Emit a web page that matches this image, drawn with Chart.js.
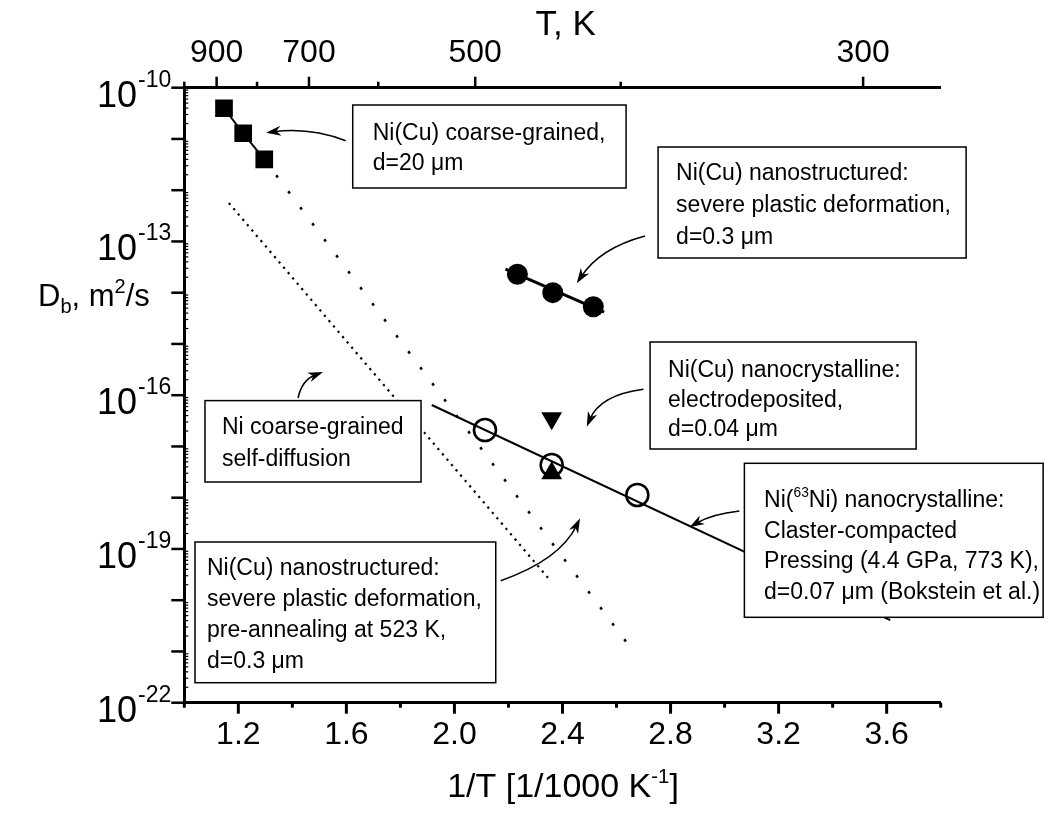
<!DOCTYPE html>
<html><head><meta charset="utf-8">
<script src="https://cdn.jsdelivr.net/npm/chart.js@4/dist/chart.umd.min.js"></script>
<style>html,body{margin:0;padding:0;background:#fff;overflow:hidden}canvas{display:block}</style>
</head><body>
<canvas id="c" width="1050" height="821"></canvas>
<script>
// ---------------- data ----------------
const coarseX = [1.147, 1.218, 1.296];
const coarseD = [3.97e-11, 1.29e-11, 4.0e-12];
const coarseExtrapX = [1.296, 2.639];
const coarseExtrapD = [4.0e-12, 1.46e-21];
const selfDiffX = [1.165, 2.347];
const selfDiffD = [5.62e-13, 2.71e-20];
const spdX = [2.233, 2.364, 2.514];
const spdD = [2.29e-14, 1.0e-14, 5.33e-15];
const spdFitX = [2.189, 2.554];
const spdFitD = [2.9e-14, 4.2e-15];
const edDownX = [2.36];
const edDownD = [3.54e-17];
const edUpX = [2.36];
const edUpD = [2.99e-18];
const ni63X = [2.113, 2.36, 2.677];
const ni63D = [2.09e-17, 4.35e-18, 1.13e-18];
const ni63FitX = [1.916, 3.613];
const ni63FitD = [6.44e-17, 4.1e-21];

// ---------------- axes ----------------
const xTickValues = [1.0, 1.2, 1.4, 1.6, 1.8, 2.0, 2.2, 2.4, 2.6, 2.8, 3.0, 3.2, 3.4, 3.6, 3.8];
const xTickLabels = ['1.2', '1.6', '2.0', '2.4', '2.8', '3.2', '3.6'];
const topTemps = [1000, 900, 800, 700, 600, 500, 400, 300];
const topTempLabels = [900, 700, 500, 300];
const yDecades = [-22, -21, -20, -19, -18, -17, -16, -15, -14, -13, -12, -11, -10];
const yLabelExps = [-22, -19, -16, -13, -10];

const xTitle = ['1/T [1/1000 K', '-1', ']'];
const x2Title = 'T, K';

// ---------------- annotations (data coordinates: x = 1/T, y = log10 D) ----------------
const boxes = [
  {x1: 1.6235, x2: 2.6353, y1: -10.3376, y2: -11.9571, tx: 1.6975, ly: [-10.8585, -11.4439],
   lines: ['Ni(Cu) coarse-grained,', 'd=20 \u03bcm']},
  {x1: 2.7538, x2: 3.8941, y1: -11.1571, y2: -13.3229, tx: 2.8205, ly: [-11.6449, -12.2693, -12.8937],
   lines: ['Ni(Cu) nanostructured:', 'severe plastic deformation,', 'd=0.3 \u03bcm']},
  {x1: 2.7242, x2: 3.7090, y1: -14.9620, y2: -17.0498, tx: 2.7908, ly: [-15.4888, -16.0644, -16.6400],
   lines: ['Ni(Cu) nanocrystalline:', 'electrodeposited,', 'd=0.04 \u03bcm']},
  {x1: 1.0766, x2: 1.8763, y1: -16.1054, y2: -17.6937, tx: 1.1396, ly: [-16.6010, -17.2254],
   lines: ['Ni coarse-grained', 'self-diffusion']},
  {x1: 1.0396, x2: 2.1529, y1: -18.8644, y2: -21.6098, tx: 1.0840, ly: [-19.3522, -19.9473, -20.5522, -21.1668],
   lines: ['Ni(Cu) nanostructured:', 'severe plastic deformation,', 'pre-annealing at 523 K,', 'd=0.3 \u03bcm']},
  {x1: 3.0733, x2: 4.1792, y1: -17.3288, y2: -20.3337, tx: 3.1462, ly: [-18.0117, -18.6205, -19.2156, -19.8107],
   lines: ['Ni(^63^Ni) nanocrystalline:', 'Claster-compacted', 'Pressing (4.4 GPa, 773 K),', 'd=0.07 \u03bcm (Bokstein et al.)']}
];
const arrows = [
  [[1.5976, -11.0341], [1.4654, -10.7668], [1.3025, -10.8780]],
  [[2.7057, -12.8937], [2.5391, -13.1278], [2.4528, -13.8166]],
  [[2.6994, -15.8849], [2.5391, -15.9961], [2.4898, -16.6146]],
  [[3.0548, -18.2595], [2.9537, -18.3180], [2.8697, -18.5776]],
  [[1.4210, -16.0546], [1.4358, -15.7034], [1.5135, -15.5473]],
  [[2.1714, -19.6195], [2.3910, -19.2098], [2.4650, -18.4020]]
];

const FONT = '"Liberation Sans", Arial, Helvetica, sans-serif';
const pts = (xs, ys) => xs.map((x, i) => ({x: x, y: ys[i]}));
const near = (a, b) => Math.abs(a - b) < 1e-6;

function drawRich(ctx, text, x, yc, size, align) {
  const parts = text.split('^');
  const segs = parts.map((t, i) => ({t: t, sup: i % 2 === 1}));
  let w = 0;
  segs.forEach(s => { ctx.font = (s.sup ? size * 0.6 : size) + 'px ' + FONT; s.w = ctx.measureText(s.t).width; w += s.w; });
  let cx = align === 'center' ? x - w / 2 : (align === 'right' ? x - w : x);
  const base = yc + size * 0.358;
  ctx.textAlign = 'left'; ctx.textBaseline = 'alphabetic';
  segs.forEach(s => {
    ctx.font = (s.sup ? size * 0.6 : size) + 'px ' + FONT;
    ctx.fillText(s.t, cx, s.sup ? base - size * 0.42 : base);
    cx += s.w;
  });
}

function drawArrow(ctx, p0, c, p1) {
  const ang = Math.atan2(p1.y - c.y, p1.x - c.x);
  const L = 15, W = 5;
  ctx.beginPath();
  ctx.moveTo(p0.x, p0.y);
  ctx.quadraticCurveTo(c.x, c.y, p1.x - 8 * Math.cos(ang), p1.y - 8 * Math.sin(ang));
  ctx.stroke();
  ctx.beginPath();
  ctx.moveTo(p1.x, p1.y);
  ctx.lineTo(p1.x - L * Math.cos(ang) + W * Math.sin(ang), p1.y - L * Math.sin(ang) - W * Math.cos(ang));
  ctx.lineTo(p1.x - L * 0.7 * Math.cos(ang), p1.y - L * 0.7 * Math.sin(ang));
  ctx.lineTo(p1.x - L * Math.cos(ang) - W * Math.sin(ang), p1.y - L * Math.sin(ang) + W * Math.cos(ang));
  ctx.closePath();
  ctx.fill();
}

const deco = {
  id: 'deco',
  afterDatasetsDraw(chart) {
    const ctx = chart.ctx, xs = chart.scales.x, ys = chart.scales.y;
    const P = (x, l) => ({x: xs.getPixelForValue(x), y: ys.getPixelForValue(Math.pow(10, l))});
    ctx.save();
    boxes.forEach(b => {
      const a = P(b.x1, b.y1), c = P(b.x2, b.y2);
      ctx.fillStyle = '#fff';
      ctx.fillRect(a.x, a.y, c.x - a.x, c.y - a.y);
      ctx.strokeStyle = '#000'; ctx.lineWidth = 1.5;
      ctx.strokeRect(a.x, a.y, c.x - a.x, c.y - a.y);
      ctx.fillStyle = '#000';
      b.lines.forEach((ln, i) => { const p = P(b.tx, b.ly[i]); drawRich(ctx, ln, p.x, p.y, 23, 'left'); });
    });
    ctx.strokeStyle = '#000'; ctx.fillStyle = '#000'; ctx.lineWidth = 1.6;
    arrows.forEach(a => drawArrow(ctx, P(a[0][0], a[0][1]), P(a[1][0], a[1][1]), P(a[2][0], a[2][1])));
    ctx.restore();
  },
  afterDraw(chart) {
    const ctx = chart.ctx, xs = chart.scales.x, x2 = chart.scales.x2, ys = chart.scales.y;
    const ca = chart.chartArea;
    ctx.save();
    ctx.strokeStyle = '#000'; ctx.fillStyle = '#000';
    // bottom ticks
    xTickValues.forEach(v => {
      const px = xs.getPixelForValue(v);
      const major = xTickLabels.some(l => near(parseFloat(l), v));
      ctx.lineWidth = 3;
      ctx.beginPath(); ctx.moveTo(px, ca.bottom); ctx.lineTo(px, ca.bottom + (major ? 11 : 5)); ctx.stroke();
    });
    // top ticks
    topTemps.forEach(T => {
      const px = x2.getPixelForValue(1000 / T);
      const major = topTempLabels.indexOf(T) >= 0;
      ctx.lineWidth = 2.5;
      ctx.beginPath(); ctx.moveTo(px, ca.top); ctx.lineTo(px, ca.top - (major ? 11 : 6)); ctx.stroke();
    });
    // y ticks
    yDecades.forEach(e => {
      const py = ys.getPixelForValue(Math.pow(10, e));
      ctx.lineWidth = 2.5;
      ctx.beginPath(); ctx.moveTo(ca.left, py); ctx.lineTo(ca.left - 13, py); ctx.stroke();
      if (e < -10) {
        for (let m = 2; m <= 9; m++) {
          const pm = ys.getPixelForValue(m * Math.pow(10, e));
          ctx.lineWidth = 1.2;
          ctx.beginPath(); ctx.moveTo(ca.left, pm); ctx.lineTo(ca.left + 4, pm); ctx.stroke();
        }
      }
    });
    // y tick labels with superscripts
    yLabelExps.forEach(e => {
      const py = ys.getPixelForValue(Math.pow(10, e));
      ctx.font = '23px ' + FONT;
      const sw = ctx.measureText(String(e)).width;
      const supRight = ca.left - 13;
      ctx.textAlign = 'right'; ctx.textBaseline = 'alphabetic';
      ctx.fillText(String(e), supRight, py - 1);
      ctx.font = '36px ' + FONT;
      ctx.fillText('10', supRight - sw - 1, py + 19);
    });
    // y title  D_b, m^2/s
    let cx = 38; const base = 306;
    ctx.textAlign = 'left';
    const seg = (t, size, dy) => { ctx.font = size + 'px ' + FONT; ctx.fillText(t, cx, base + dy); cx += ctx.measureText(t).width; };
    seg('D', 31, 0); seg('b', 20, 7); seg(', m', 31, 0); seg('2', 20, -13); seg('/s', 31, 0);
    // top title
    drawRich(ctx, x2Title, 565.6, 22.5, 35, 'center');
    // bottom title
    drawRich(ctx, xTitle[0] + '^' + xTitle[1] + '^' + xTitle[2], 563, 785, 34, 'center');
    ctx.restore();
  }
};

const black = '#000';
new Chart(document.getElementById('c'), {
  type: 'scatter',
  data: {
    datasets: [
      {label: 'Ni(Cu) coarse-grained', data: pts(coarseX, coarseD), showLine: true, borderColor: black, borderWidth: 2,
       pointStyle: 'rect', pointRadius: 12.5, pointBackgroundColor: black, pointBorderColor: black, pointBorderWidth: 0},
      {label: 'coarse extrapolation', data: pts(coarseExtrapX, coarseExtrapD), showLine: true, borderColor: black,
       borderWidth: 2.6, borderDash: [2.6, 17.4], pointRadius: 0},
      {label: 'Ni self-diffusion', data: pts(selfDiffX, selfDiffD), showLine: true, borderColor: black,
       borderWidth: 2.2, borderDash: [2.2, 4.8], pointRadius: 0},
      {label: 'SPD fit', data: pts(spdFitX, spdFitD), showLine: true, borderColor: black, borderWidth: 3, pointRadius: 0},
      {label: 'Ni(Cu) SPD', data: pts(spdX, spdD), showLine: false, pointStyle: 'circle', pointRadius: 10.5,
       pointBackgroundColor: black, pointBorderColor: black, pointBorderWidth: 0},
      {label: 'Ni63 fit', data: pts(ni63FitX, ni63FitD), showLine: true, borderColor: black, borderWidth: 2, pointRadius: 0},
      {label: 'Ni(63Ni) nanocrystalline', data: pts(ni63X, ni63D), showLine: false, pointStyle: 'circle', pointRadius: 11,
       pointBackgroundColor: 'rgba(0,0,0,0)', pointBorderColor: black, pointBorderWidth: 2.6},
      {label: 'electrodeposited (down)', data: pts(edDownX, edDownD), showLine: false, pointStyle: 'triangle', rotation: 180,
       pointRadius: 12, pointBackgroundColor: black, pointBorderColor: black, pointBorderWidth: 0},
      {label: 'electrodeposited (up)', data: pts(edUpX, edUpD), showLine: false, pointStyle: 'triangle',
       pointRadius: 12, pointBackgroundColor: black, pointBorderColor: black, pointBorderWidth: 0}
    ]
  },
  options: {
    responsive: false,
    animation: false,
    devicePixelRatio: 1,
    layout: {padding: {left: 0, right: 109.3, top: 0, bottom: 0}},
    plugins: {legend: {display: false}, tooltip: {enabled: false}},
    scales: {
      x: {
        type: 'linear', position: 'bottom', min: 1.0, max: 3.8,
        afterFit: s => { s.height = 118.3; },
        afterBuildTicks: s => { s.ticks = xTickValues.map(v => ({value: v})); },
        grid: {display: false, drawTicks: false},
        border: {display: true, width: 3, color: black},
        ticks: {
          autoSkip: false, maxRotation: 0, color: black, padding: 13,
          font: {family: FONT, size: 32},
          callback: v => { const l = xTickLabels.find(t => near(parseFloat(t), v)); return l || ''; }
        }
      },
      x2: {
        type: 'linear', position: 'top', min: 1.0, max: 3.6,
        afterFit: s => { s.height = 87.7; },
        afterBuildTicks: s => { s.ticks = topTemps.map(T => ({value: 1000 / T})); },
        grid: {display: false, drawTicks: false},
        border: {display: true, width: 3, color: black},
        ticks: {
          autoSkip: false, maxRotation: 0, color: black, padding: 15,
          font: {family: FONT, size: 32},
          callback: v => { const T = Math.round(1000 / v); return topTempLabels.indexOf(T) >= 0 ? String(T) : ''; }
        }
      },
      y: {
        type: 'logarithmic', position: 'left', min: 1e-22, max: 1e-10,
        afterFit: s => { s.width = 184.3; },
        afterBuildTicks: s => { s.ticks = yDecades.map(e => ({value: Math.pow(10, e)})); },
        grid: {display: false, drawTicks: false},
        border: {display: true, width: 3, color: black},
        ticks: {display: false}
      }
    }
  },
  plugins: [deco]
});
</script>
</body></html>
